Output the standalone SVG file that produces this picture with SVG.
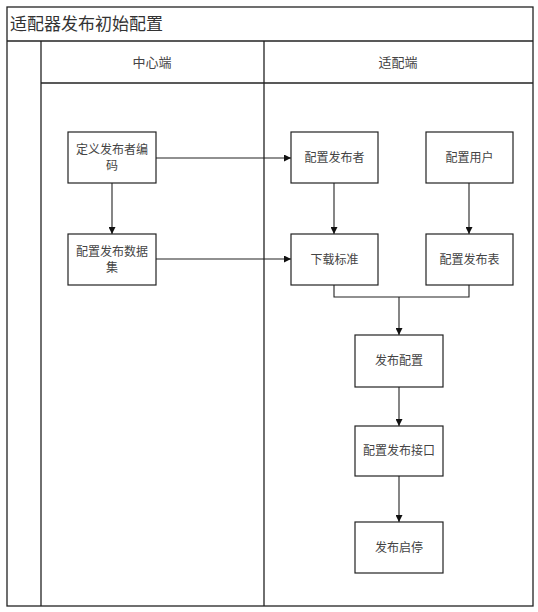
<svg xmlns="http://www.w3.org/2000/svg" width="538" height="612" viewBox="0 0 538 612">
<style>
.frame{fill:none;stroke:#222;stroke-width:1.3}
.box{fill:#fff;stroke:#222;stroke-width:1.2}
.lbl{font-family:"Noto Sans CJK SC","Liberation Sans",sans-serif;font-size:12px;fill:#444;text-anchor:middle}
.hdr{font-family:"Noto Sans CJK SC","Liberation Sans",sans-serif;font-size:13px;fill:#444;text-anchor:middle}
.ttl{font-family:"Noto Sans CJK SC","Liberation Sans",sans-serif;font-size:17px;fill:#333}
.con{fill:none;stroke:#222;stroke-width:1.1}
</style>
<defs>
<marker id="ah" viewBox="0 0 10 10" refX="10" refY="5" markerWidth="7" markerHeight="7" markerUnits="userSpaceOnUse" orient="auto">
<path d="M0,0 L10,5 L0,10 z" fill="#111"/>
</marker>
</defs>
<rect width="538" height="612" fill="#fff"/>
<g id="pool">
<rect class="frame" x="7" y="7" width="526" height="599"/>
<line class="frame" x1="7" y1="41" x2="533" y2="41"/>
<line class="frame" x1="41" y1="41" x2="41" y2="606"/>
<line class="frame" x1="41" y1="83" x2="533" y2="83"/>
<line class="frame" x1="264" y1="41" x2="264" y2="606"/>
<text class="ttl" x="10" y="30">适配器发布初始配置</text>
<text class="hdr" x="152" y="67">中心端</text>
<text class="hdr" x="398" y="67">适配端</text>
</g>
<g id="connectors">
<line class="con" x1="156" y1="158" x2="291" y2="158" marker-end="url(#ah)"/>
<line class="con" x1="156" y1="259" x2="291" y2="259" marker-end="url(#ah)"/>
<line class="con" x1="112" y1="183" x2="112" y2="234" marker-end="url(#ah)"/>
<line class="con" x1="334" y1="183" x2="334" y2="234" marker-end="url(#ah)"/>
<line class="con" x1="469" y1="183" x2="469" y2="234" marker-end="url(#ah)"/>
<polyline class="con" points="334,285 334,297 469,297 469,285"/>
<line class="con" x1="399" y1="297" x2="399" y2="335" stroke-width="1.8" marker-end="url(#ah)"/>
<line class="con" x1="399" y1="387" x2="399" y2="426" marker-end="url(#ah)"/>
<line class="con" x1="399" y1="476" x2="399" y2="522" marker-end="url(#ah)"/>
</g>
<g id="n1"><rect class="box" x="68" y="132" width="88" height="51"/><text class="lbl" x="112" y="154">定义发布者编</text><text class="lbl" x="112" y="170">码</text></g>
<g id="n2"><rect class="box" x="68" y="234" width="88" height="51"/><text class="lbl" x="112" y="256">配置发布数据</text><text class="lbl" x="112" y="272">集</text></g>
<g id="n3"><rect class="box" x="291" y="132" width="87" height="51"/><text class="lbl" x="334.5" y="162">配置发布者</text></g>
<g id="n4"><rect class="box" x="426" y="132" width="87" height="51"/><text class="lbl" x="469.5" y="162">配置用户</text></g>
<g id="n5"><rect class="box" x="291" y="234" width="87" height="51"/><text class="lbl" x="334.5" y="264">下载标准</text></g>
<g id="n6"><rect class="box" x="426" y="234" width="87" height="51"/><text class="lbl" x="469.5" y="264">配置发布表</text></g>
<g id="n7"><rect class="box" x="355" y="335" width="88" height="52"/><text class="lbl" x="399" y="365">发布配置</text></g>
<g id="n8"><rect class="box" x="355" y="426" width="88" height="50"/><text class="lbl" x="399" y="455">配置发布接口</text></g>
<g id="n9"><rect class="box" x="355" y="522" width="88" height="51"/><text class="lbl" x="399" y="552">发布启停</text></g>
</svg>
